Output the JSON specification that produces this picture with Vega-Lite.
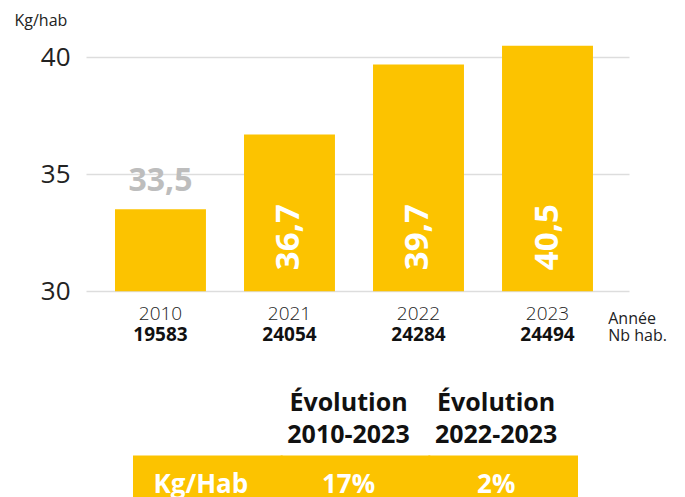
{
  "$schema": "https://vega.github.io/schema/vega-lite/v6.json",
  "padding": {"left": 14, "top": 12, "right": 5, "bottom": 5},
  "bounds": "flush",
  "spacing": 108.5,
  "config": {
    "view": {"stroke": null},
    "font": "Open Sans",
    "locale": {"number": {"decimal": ",", "thousands": " ", "grouping": [3], "currency": ["", " €"]}}
  },
  "vconcat": [
    {
      "width": 543,
      "height": 257.2,
      "data": {"values": [
        {"year": "2010", "pop": "19583", "kg": 33.5},
        {"year": "2021", "pop": "24054", "kg": 36.7},
        {"year": "2022", "pop": "24284", "kg": 39.7},
        {"year": "2023", "pop": "24494", "kg": 40.5}
      ]},
      "layer": [
        {
          "layer": [
            {
              "mark": {"type": "bar", "color": "#fcc300"},
              "encoding": {
                "x": {"field": "year", "type": "nominal",
                  "scale": {"type": "band", "paddingInner": 0.295, "paddingOuter": 0.252, "align": 0.446},
                  "axis": {"orient": "bottom", "labelAngle": 0, "ticks": false, "tickSize": 0, "domain": false, "grid": false,
                    "labelFontSize": 19, "labelFontWeight": 300, "labelColor": "#222", "labelPadding": 13,
                    "title": ["Année", "Nb hab."], "titleX": 521.7, "titleY": 19, "titleAlign": "left", "titleBaseline": "top",
                    "titleFontSize": 16, "titleFontWeight": "normal", "titleColor": "#222", "titleLineHeight": 17.5}},
                "y": {"field": "kg", "type": "quantitative",
                  "scale": {"domain": [30, 41], "nice": false, "zero": false},
                  "axis": {"values": [30, 35, 40], "ticks": false, "domain": false, "grid": true, "gridColor": "#dddddd", "gridWidth": 1.6,
                    "labelFontSize": 26, "labelColor": "#222", "labelPadding": 16,
                    "title": "Kg/hab", "titleAngle": 0, "titleX": -72, "titleY": -8.3, "titleAlign": "left", "titleBaseline": "alphabetic",
                    "titleFontSize": 16, "titleFontWeight": "normal", "titleColor": "#222"}},
                "y2": {"datum": 30}
              }
            },
            {
              "transform": [{"filter": "datum.year == '2010'"}],
              "mark": {"type": "text", "color": "#bdbdbd", "fontSize": 32, "fontWeight": "bold", "baseline": "alphabetic", "dy": -18},
              "encoding": {
                "x": {"field": "year", "type": "nominal"},
                "y": {"field": "kg", "type": "quantitative"},
                "text": {"field": "kg", "type": "quantitative", "format": ".1f"}
              }
            },
            {
              "transform": [{"filter": "datum.year != '2010'"}],
              "mark": {"type": "text", "color": "white", "fontSize": 33, "fontWeight": "bold", "angle": 270, "align": "left", "baseline": "middle", "dx": 21},
              "encoding": {
                "x": {"field": "year", "type": "nominal"},
                "y": {"datum": 30},
                "text": {"field": "kg", "type": "quantitative", "format": ".1f"}
              }
            }
          ]
        },
        {
          "mark": {"type": "text", "text": "", "opacity": 0},
          "encoding": {
            "x": {"field": "pop", "type": "nominal",
              "scale": {"type": "band", "paddingInner": 0.295, "paddingOuter": 0.252, "align": 0.446},
              "axis": {"orient": "bottom", "labelAngle": 0, "ticks": false, "tickSize": 0, "domain": false, "grid": false,
                "labelFontSize": 19, "labelFontWeight": "bold", "labelColor": "#111", "labelPadding": 34, "title": null}}
          }
        }
      ],
      "resolve": {"scale": {"x": "independent"}, "axis": {"x": "independent"}}
    },
    {
      "width": 543,
      "height": 112,
      "data": {"values": [
        {"col": "e1", "row": "head", "txt": "Évolution\n2010-2023"},
        {"col": "e2", "row": "head", "txt": "Évolution\n2022-2023"},
        {"col": "label", "row": "val", "txt": "Kg/Hab"},
        {"col": "e1", "row": "val", "txt": "17%"},
        {"col": "e2", "row": "val", "txt": "2%"}
      ]},
      "encoding": {
        "x": {"field": "col", "type": "nominal",
          "scale": {"domain": ["label", "e1", "e2"], "paddingInner": 0, "paddingOuter": 0.3386, "align": 0.48}, "axis": null},
        "y": {"field": "row", "type": "nominal",
          "scale": {"domain": ["head", "val"], "paddingInner": 0, "paddingOuter": 0}, "axis": null}
      },
      "layer": [
        {
          "transform": [{"filter": "datum.row == 'val'"}],
          "mark": {"type": "bar", "color": "#fcc300", "stroke": "#fcc300", "strokeWidth": 2}
        },
        {
          "transform": [{"filter": "datum.row == 'head'"}],
          "mark": {"type": "text", "fontSize": 25, "fontWeight": "bold", "color": "#111", "lineBreak": "\n", "lineHeight": 32, "dy": -26, "dx": -7},
          "encoding": {"text": {"field": "txt"}}
        },
        {
          "transform": [{"filter": "datum.row == 'val'"}],
          "mark": {"type": "text", "fontSize": 26, "fontWeight": "bold", "color": "white", "dx": -7},
          "encoding": {"text": {"field": "txt"}}
        }
      ]
    }
  ]
}
